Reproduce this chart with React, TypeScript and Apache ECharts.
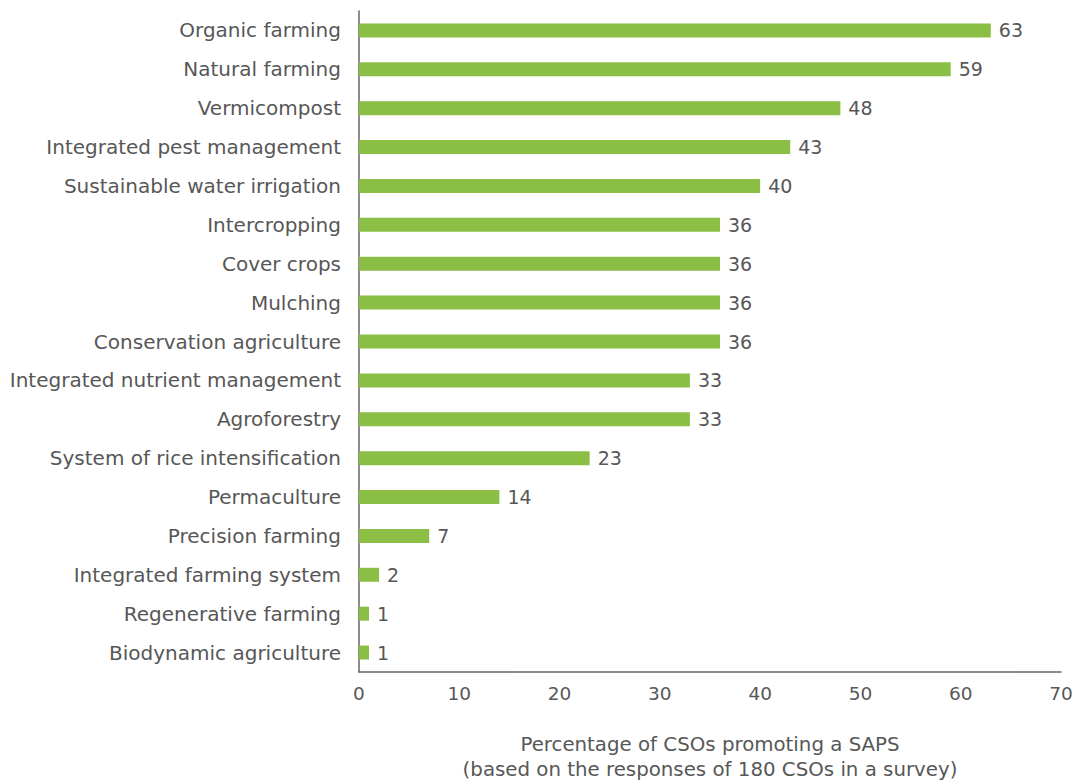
import React, { useEffect, useRef } from "react";
import * as echarts from "echarts";

const categories = [
  "Organic farming",
  "Natural farming",
  "Vermicompost",
  "Integrated pest management",
  "Sustainable water irrigation",
  "Intercropping",
  "Cover crops",
  "Mulching",
  "Conservation agriculture",
  "Integrated nutrient management",
  "Agroforestry",
  "System of rice intensification",
  "Permaculture",
  "Precision farming",
  "Integrated farming system",
  "Regenerative farming",
  "Biodynamic agriculture",
];
const values = [63, 59, 48, 43, 40, 36, 36, 36, 36, 33, 33, 23, 14, 7, 2, 1, 1];
const axisTitle = "Percentage of CSOs promoting a SAPS\n(based on the responses of 180 CSOs in a survey)";

const FONT = "'DejaVu Sans', sans-serif";
const TEXT = "#575757";

export default function App() {
  const ref = useRef<HTMLDivElement>(null);
  useEffect(() => {
    const chart = echarts.init(ref.current!, null, { renderer: "svg" });
    chart.setOption({
      animation: false,
      grid: {
        left: 359,
        right: 16,
        top: 11,
        bottom: 110,
        containLabel: false,
        outerBoundsMode: "none",
      },
      xAxis: {
        type: "value",
        min: 0,
        max: 70,
        interval: 10,
        axisLine: { show: true, lineStyle: { color: "#666", width: 1.5 } },
        axisTick: { show: false },
        splitLine: { show: false },
        axisLabel: { color: TEXT, fontSize: 18.5, fontFamily: FONT, margin: 12 },
        name: axisTitle,
        nameLocation: "middle",
        nameGap: 60,
        nameTextStyle: { color: TEXT, fontSize: 19.8, fontFamily: FONT, lineHeight: 25 },
      },
      yAxis: {
        type: "category",
        data: categories,
        inverse: true,
        axisLine: { show: true, lineStyle: { color: "#666", width: 1.5 } },
        axisTick: { show: false },
        axisLabel: { color: TEXT, fontSize: 20, fontFamily: FONT, margin: 18, padding: [0, 0, 6, 0] },
      },
      series: [
        {
          type: "bar",
          data: values,
          barWidth: 14,
          itemStyle: { color: "#8BBE45" },
          label: {
            show: true,
            position: "right",
            distance: 8,
            color: TEXT,
            fontSize: 19,
            fontFamily: FONT,
          },
        },
      ],
    });
    return () => chart.dispose();
  }, []);
  return (
    <div
      ref={ref}
      style={{ width: 1077, height: 782, position: "absolute", left: 0, top: 0 }}
    />
  );
}
